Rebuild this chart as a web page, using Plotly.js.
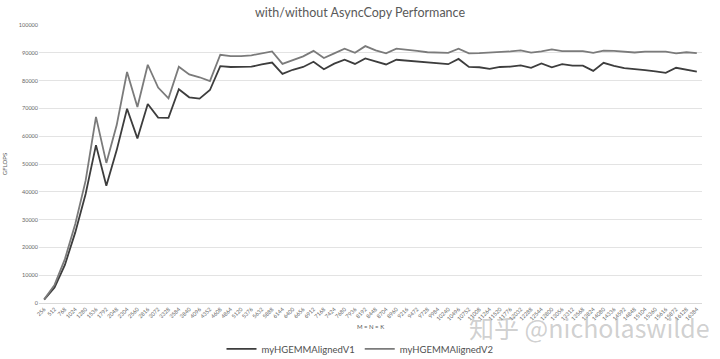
<!DOCTYPE html>
<html>
<head>
<meta charset="utf-8">
<script src="https://cdn.plot.ly/plotly-3.0.1.min.js"></script>
<style>html,body{margin:0;padding:0;background:#fff;}#chart{width:720px;height:359px;}</style>
</head>
<body>
<div id="chart"></div>
<script>
const sizes = [256,512,768,1024,1280,1536,1792,2048,2304,2560,2816,3072,3328,3584,3840,4096,
  4352,4608,4864,5120,5376,5632,5888,6144,6400,6656,6912,7168,7424,7680,7936,8192,
  8448,8704,8960,9216,9472,9728,9984,10240,10496,10752,11008,11264,11520,11776,12032,12288,
  12544,12800,13056,13312,13568,13824,14080,14336,14592,14848,15104,15360,15616,15872,16128,16384];
const categories = sizes.map(String);

const v1 = [1200,5600,13700,25400,39200,56800,42200,55000,69900,59200,71600,66700,66600,76900,74000,73500,
  76600,85200,84900,84900,85000,85800,86500,82400,83900,84900,86800,84100,86100,87500,86000,88000,
  86800,85800,87500,87200,86800,86400,86100,85900,87800,84900,84800,84200,84900,85000,85500,84600,
  86200,84800,85900,85400,85400,83500,86400,85300,84500,84200,83800,83300,82800,84600,83900,83200];

const v2 = [1300,6500,15800,28400,44000,66950,50400,64000,83100,70500,85700,77500,73600,85000,82200,81200,
  79800,89300,88800,88800,89100,89800,90500,86000,87300,88700,90700,88100,89800,91500,90000,92400,
  90900,89800,91500,91200,90700,90200,90100,90000,91500,89800,89900,90100,90200,90500,90900,90100,
  90500,91200,90600,90600,90600,90000,90800,90700,90400,90100,90400,90500,90400,89800,90200,89900];

const seriesNames = ['myHGEMMAlignedV1','myHGEMMAlignedV2'];
const yTicks = [0,10000,20000,30000,40000,50000,60000,70000,80000,90000,100000];

const FONT = 'Lato, "Open Sans", "Liberation Sans", sans-serif';

const traces = [
  {x: categories, y: v1, name: seriesNames[0], type: 'scatter', mode: 'lines',
   line: {color: '#3d3d3d', width: 1.8}},
  {x: categories, y: v2, name: seriesNames[1], type: 'scatter', mode: 'lines',
   line: {color: '#7b7b7b', width: 1.8}}
];

const layout = {
  width: 720, height: 359,
  margin: {l: 39, r: 18, t: 25, b: 56},
  paper_bgcolor: '#ffffff', plot_bgcolor: '#ffffff',
  font: {family: FONT, color: '#595959'},
  title: {text: 'with/without AsyncCopy Performance', font: {size: 12.5, color: '#595959', family: FONT},
          x: 0.5, xanchor: 'center', y: 0.965, yanchor: 'middle'},
  xaxis: {
    type: 'category', range: [-0.5, 63.5],
    tickangle: -45, tickfont: {size: 5.5, color: '#666666'},
    showgrid: false, showline: true, linecolor: '#d9d9d9', linewidth: 1,
    ticks: '', automargin: false,
    title: {text: 'M = N = K', font: {size: 6, color: '#595959'}, standoff: 4}
  },
  yaxis: {
    range: [0, 100000], tickvals: yTicks, ticktext: yTicks.map(String),
    tickfont: {size: 5.5, color: '#666666'},
    showgrid: true, gridcolor: '#e3e3e3', gridwidth: 1, zeroline: false,
    showline: false, ticks: '', automargin: false,
    title: {text: 'GFLOPS', font: {size: 6, color: '#595959'}, standoff: 10}
  },
  showlegend: true,
  legend: {orientation: 'h', x: 0.5, xanchor: 'center', xref: 'container',
           y: 0.028, yref: 'container', yanchor: 'middle',
           font: {size: 9.5, color: '#505050', family: FONT}, itemwidth: 30, tracegroupgap: 0},
  annotations: [
    {text: '知乎 @nicholaswilde', xref: 'paper', yref: 'paper', x: 1.015, y: -0.085,
     xanchor: 'right', yanchor: 'middle', showarrow: false,
     font: {size: 25, color: 'rgba(150,150,150,0.45)', family: '"Noto Sans CJK SC", "Noto Sans", sans-serif'}}
  ]
};

Plotly.newPlot('chart', traces, layout, {displayModeBar: false, staticPlot: true});
</script>
</body>
</html>
